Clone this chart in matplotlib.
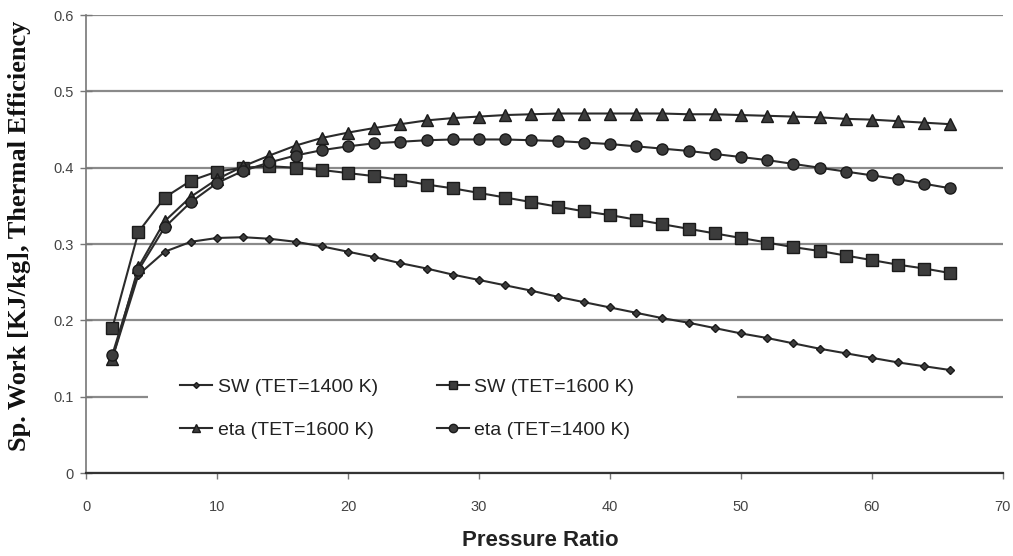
import matplotlib
matplotlib.use('Agg')
from matplotlib import pyplot as plt
from matplotlib.patches import Rectangle

pressureRatio = list(range(2, 67, 2))

sw1400 = [0.150, 0.260, 0.290, 0.303, 0.308, 0.309, 0.307, 0.303, 0.297, 0.290,
          0.283, 0.275, 0.268, 0.260, 0.253, 0.246, 0.239, 0.231, 0.224, 0.217,
          0.210, 0.203, 0.197, 0.190, 0.183, 0.177, 0.170, 0.163, 0.157, 0.151,
          0.145, 0.140, 0.135]

sw1600 = [0.190, 0.316, 0.361, 0.383, 0.395, 0.400, 0.402, 0.400, 0.397, 0.393,
          0.389, 0.384, 0.378, 0.373, 0.367, 0.361, 0.355, 0.349, 0.343, 0.338,
          0.332, 0.326, 0.320, 0.314, 0.308, 0.302, 0.296, 0.291, 0.285, 0.279,
          0.273, 0.268, 0.262]

eta1600 = [0.150, 0.270, 0.330, 0.362, 0.385, 0.402, 0.416, 0.429, 0.439, 0.446,
           0.452, 0.457, 0.462, 0.465, 0.467, 0.469, 0.470, 0.471, 0.471, 0.471,
           0.471, 0.471, 0.470, 0.470, 0.469, 0.468, 0.467, 0.466, 0.464, 0.463,
           0.461, 0.459, 0.457]

eta1400 = [0.155, 0.266, 0.322, 0.355, 0.380, 0.396, 0.407, 0.416, 0.423, 0.428,
           0.432, 0.434, 0.436, 0.437, 0.437, 0.437, 0.436, 0.435, 0.433, 0.431,
           0.428, 0.425, 0.422, 0.418, 0.414, 0.410, 0.405, 0.400, 0.395, 0.390,
           0.385, 0.379, 0.373]

xTicks = [0, 10, 20, 30, 40, 50, 60, 70]
yTicks = [0, 0.1, 0.2, 0.3, 0.4, 0.5, 0.6]
yTickLabels = ['0', '0.1', '0.2', '0.3', '0.4', '0.5', '0.6']

lineColor = '#2b2b2b'
fillColor = '#3c3c3c'

fig = plt.figure(figsize=(10.13, 5.56), dpi=100)
ax = fig.add_axes([0.085, 0.149, 0.905, 0.824])

style = dict(color=lineColor, linewidth=1.5, markerfacecolor=fillColor,
             markeredgecolor='#1a1a1a', zorder=3)
l1, = ax.plot(pressureRatio, sw1400, marker='D', markersize=4, label='SW (TET=1400 K)', **style)
l2, = ax.plot(pressureRatio, sw1600, marker='s', markersize=8.5, label='SW (TET=1600 K)', **style)
l3, = ax.plot(pressureRatio, eta1600, marker='^', markersize=8.5, label='eta (TET=1600 K)', **style)
l4, = ax.plot(pressureRatio, eta1400, marker='o', markersize=8, label='eta (TET=1400 K)', **style)

ax.set_xlim(0, 70)
ax.set_ylim(0, 0.6)
ax.set_xticks(xTicks)
ax.set_yticks(yTicks)
ax.set_yticklabels(yTickLabels)

ax.grid(axis='y', color='#8a8a8a', linewidth=1.6, zorder=0)
ax.set_axisbelow(True)

# white box behind the legend breaks the 0.1 gridline
ax.add_patch(Rectangle((0.068, 0.04), 0.642, 0.2, transform=ax.transAxes,
                       facecolor='white', edgecolor='none', zorder=1))

for side in ['top', 'right']:
    ax.spines[side].set_visible(False)
ax.spines['left'].set_color('#777777')
ax.spines['left'].set_linewidth(1.2)
ax.spines['bottom'].set_color('#333333')
ax.spines['bottom'].set_linewidth(1.6)

ax.tick_params(axis='x', direction='out', length=4, width=1, color='#777777',
               labelcolor='#444444', labelsize=10.5, pad=15)
ax.tick_params(axis='y', direction='inout', length=8, width=1, color='#777777',
               labelcolor='#444444', labelsize=10.5, pad=5)
for lab in ax.get_xticklabels() + ax.get_yticklabels():
    lab.set_family('Liberation Sans')

ax.set_xlabel('Pressure Ratio', fontsize=16, fontweight='bold', family='Liberation Sans',
              color='#222222')
ax.xaxis.set_label_coords(0.495, -0.125)
ax.set_ylabel('Sp. Work [KJ/kg], Thermal Efficiency', fontsize=19, fontweight='bold',
              family='Liberation Serif', color='#111111')
ax.yaxis.set_label_coords(-0.06, 0.517)

leg = ax.legend(handles=[l1, l3, l2, l4], ncol=2, loc='upper left',
                bbox_to_anchor=(0.092, 0.228), frameon=False, borderpad=0,
                prop={'family': 'Liberation Sans', 'size': 14},
                handlelength=1.65, handletextpad=0.3, columnspacing=3.0,
                labelspacing=1.3, markerscale=0.75)
leg.set_zorder(5)
for t in leg.get_texts():
    t.set_color('#222222')

fig.savefig('out.png', dpi=100)
